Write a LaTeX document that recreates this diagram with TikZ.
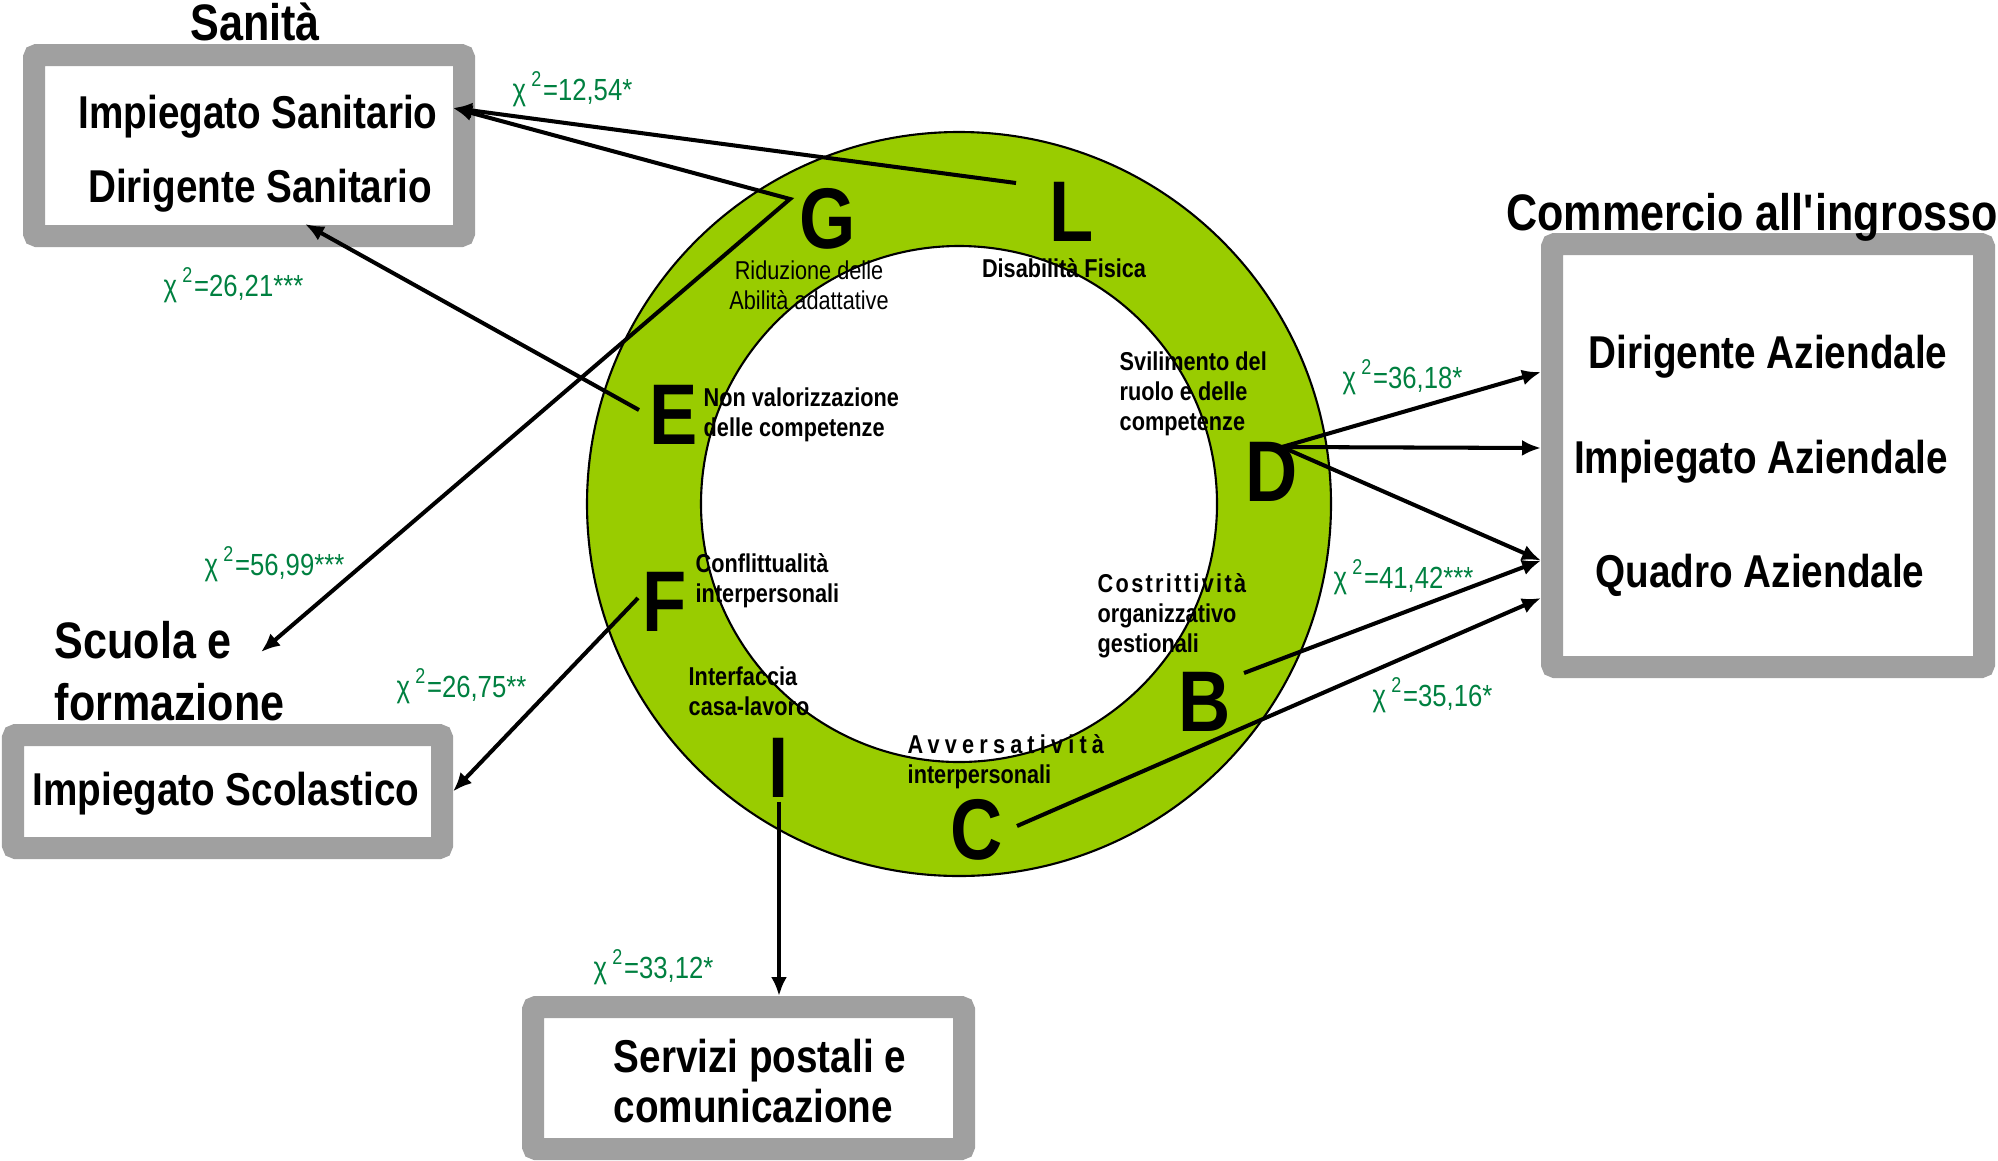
\documentclass[tikz,border=0pt]{standalone}
\usepackage{fontspec}
\setmainfont[FakeStretch=0.84]{Liberation Sans}
\usetikzlibrary{arrows.meta}
\definecolor{FillRing}{RGB}{153,204,0}
\definecolor{FrameGray}{RGB}{160,160,160}
\definecolor{ChiGreen}{RGB}{0,128,64}
\newcommand{\chiq}[1]{χ\,\textsuperscript{2}=#1}

\begin{document}
\begin{tikzpicture}[
    catbox/.style={draw=FrameGray, fill=white, line width=0.22cm, rounded corners=0.03cm, inner sep=0pt},
    cattitle/.style={font=\fontsize{14.6}{17.6}\selectfont\bfseries, inner sep=0pt, anchor=base},
    catline/.style={font=\fontsize{13.1}{14}\selectfont\bfseries, inner sep=0pt, anchor=base},
    letter/.style={font=\fontsize{24.5}{26}\selectfont\bfseries, inner sep=1pt},
    factor/.style={font=\fontsize{7.35}{8.4}\selectfont\bfseries, inner sep=0pt, anchor=base west, align=left},
    chilab/.style={font=\fontsize{8.7}{10}\selectfont, text=ChiGreen, inner sep=0pt, anchor=base west},
    arr/.style={-{Latex[length=0.19cm, width=0.16cm]}, line width=1.15pt},
    darr/.style={{Latex[length=0.19cm, width=0.16cm]}-{Latex[length=0.19cm, width=0.16cm]}, line width=1.15pt}
]
\useasboundingbox (0,0) rectangle (19.98,-11.6);

% ring
\fill[FillRing, draw=black, line width=0.6pt, even odd rule]
    (9.59,-5.04) circle (3.72) (9.59,-5.04) circle (2.58);

% boxes
\node[catbox, minimum width=4.30cm, minimum height=1.81cm] (sanbox)  at (2.49,-1.455) {};
\node[catbox, minimum width=4.32cm, minimum height=4.23cm] (commbox) at (17.68,-4.555) {};
\node[catbox, minimum width=4.29cm, minimum height=1.13cm] (scubox)  at (2.275,-7.915) {};
\node[catbox, minimum width=4.31cm, minimum height=1.42cm] (serbox)  at (7.485,-10.78) {};

\node[cattitle] (santitle)  at (2.55,-0.40)  {Sanità};
\node[cattitle] (commtitle) at (17.52,-2.30) {Commercio all\textquotesingle ingrosso};
\node[cattitle, anchor=base west, align=left] (scutitle) at (0.54,-7.20) {Scuola e\\formazione};

\node[catline] (impsan) at (2.58,-1.28)  {Impiegato Sanitario};
\node[catline] (dirsan) at (2.60,-2.02)  {Dirigente Sanitario};
\node[catline] (diraz)  at (17.68,-3.68) {Dirigente Aziendale};
\node[catline] (impaz)  at (17.61,-4.73) {Impiegato Aziendale};
\node[catline] (quaaz)  at (17.60,-5.87) {Quadro Aziendale};
\node[catline] (impsc)  at (2.26,-8.05)  {Impiegato Scolastico};
\node[catline, anchor=base west, align=left] (serv) at (6.13,-11.22) {Servizi postali e\\comunicazione};

% factors
\node[letter] (G) at (8.28,-2.19)  {G};
\node[letter] (L) at (10.72,-2.12) {L};
\node[letter] (E) at (6.74,-4.15)  {E};
\node[letter] (D) at (12.72,-4.72) {D};
\node[letter] (F) at (6.65,-6.02)  {F};
\node[letter] (B) at (12.05,-7.02) {B};
\node[letter] (I) at (7.79,-7.68)  {I};
\node[letter] (C) at (9.77,-8.30)  {C};

\node[factor, anchor=base, align=center, font=\fontsize{7.35}{8.5}\selectfont] (gtext) at (8.09,-3.09) {Riduzione delle\\Abilità adattative};
\node[factor, anchor=base] (ltext) at (10.64,-2.77) {Disabilità Fisica};
\node[factor] (etext) at (7.03,-4.36)  {Non valorizzazione\\delle competenze};
\node[factor] (dtext) at (11.19,-4.30) {Svilimento del\\ruolo e delle\\competenze};
\node[factor] (ftext) at (6.95,-6.02)  {Conflittualità\\interpersonali};
\node[factor] (btext) at (10.97,-6.52) {{\addfontfeatures{LetterSpace=9}Costrittività}\\organizzativo\\gestionali};
\node[factor] (itext) at (6.88,-7.15)  {Interfaccia\\casa-lavoro};
\node[factor] (ctext) at (9.07,-7.83)  {{\addfontfeatures{LetterSpace=20}Avversatività}\\interpersonali};

% chi-square values
\node[chilab] (chiL) at (5.12,-1.00)  {\chiq{12,54*}};
\node[chilab] (chiE) at (1.63,-2.96)  {\chiq{26,21***}};
\node[chilab] (chiG) at (2.04,-5.75)  {\chiq{56,99***}};
\node[chilab] (chiF) at (3.96,-6.97)  {\chiq{26,75**}};
\node[chilab] (chiI) at (5.93,-9.78)  {\chiq{33,12*}};
\node[chilab] (chiD) at (13.42,-3.88) {\chiq{36,18*}};
\node[chilab] (chiB) at (13.33,-5.88) {\chiq{41,42***}};
\node[chilab] (chiC) at (13.72,-7.06) {\chiq{35,16*}};

% connections
\draw[arr] ([shift={(-0.56,0.29)}]L.center) -- ([shift={(-0.22,0.375)}]sanbox.east);
\draw[darr] ([shift={(-0.22,0.375)}]sanbox.east) -- ([shift={(-0.38,0.20)}]G.center) -- ([shift={(0.335,0.72)}]scubox.north);
\draw[arr] ([shift={(-0.35,0.05)}]E.center) -- ([shift={(0.56,0.23)}]sanbox.south);
\draw[arr] ([shift={(-0.27,0.04)}]F.center) -- (scubox.east);
\draw[arr] (I.south) -- (I.south |- serbox.north);
\foreach \dy in {0.835,0.075,-1.05}
    \draw[arr] ([shift={(0.10,0.25)}]D.center) -- ([yshift=\dy cm]commbox.west);
\draw[arr] ([shift={(0.39,0.29)}]B.center) -- ([yshift=-1.05cm]commbox.west);
\draw[arr] ([shift={(0.40,0.04)}]C.center) -- ([yshift=-1.425cm]commbox.west);
\end{tikzpicture}
\end{document}
